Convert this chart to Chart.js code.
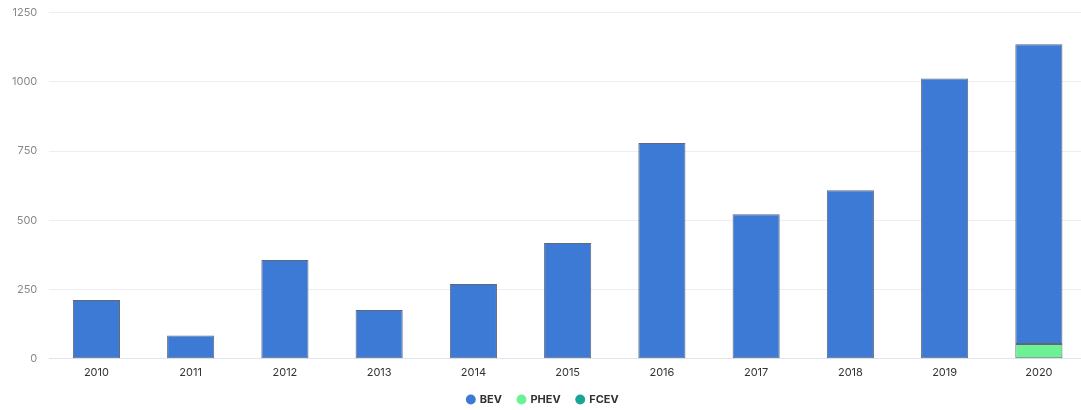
<!DOCTYPE html>
<html>
<head>
<meta charset="utf-8">
<script src="https://cdn.jsdelivr.net/npm/chart.js@4"></script>
<style>
  html, body { margin: 0; padding: 0; background: #fff; overflow: hidden; }
  #wrap { position: relative; width: 1086px; height: 416px; margin-top: -6px; }
</style>
</head>
<body>
<div id="wrap"><canvas id="c"></canvas></div>
<script>
// ── data ─────────────────────────────────────────────
const years = ["2010", "2011", "2012", "2013", "2014", "2015", "2016", "2017", "2018", "2019", "2020"];
const bev   = [212, 84, 357, 176, 270, 418, 779, 522, 609, 1012, 1083];
const phev  = [0, 0, 0, 0, 0, 0, 0, 0, 0, 0, 53];
const fcev  = [0, 0, 0, 0, 0, 0, 0, 0, 0, 0, 0];
const yTicks = [0, 250, 500, 750, 1000, 1250];

const legendOrder = ["BEV", "PHEV", "FCEV"];
const FONT = "Inter, 'Noto Sans', sans-serif";
const EDGE = "#5f6878";

new Chart(document.getElementById("c"), {
  type: "bar",
  data: {
    labels: years,
    // PHEV/FCEV first so they stack under BEV
    datasets: [
      { label: "PHEV", data: phev, backgroundColor: "#6cf294" },
      { label: "FCEV", data: fcev, backgroundColor: "#17a596" },
      { label: "BEV",  data: bev,  backgroundColor: "#3d7ad5" },
    ],
  },
  options: {
    responsive: true,
    maintainAspectRatio: false,
    animation: false,
    layout: { padding: { top: 0, right: 0, left: 0, bottom: -5 } },
    datasets: {
      bar: { barPercentage: 0.5, categoryPercentage: 1, borderColor: EDGE, borderWidth: 1, borderSkipped: false },
    },
    scales: {
      x: {
        stacked: true,
        grid: { display: false, drawTicks: true, tickLength: 8, tickColor: "#666" },
        border: { color: "#dfe4f0", width: 1 },
        ticks: { color: "#333", font: { family: FONT, size: 11 }, padding: -1 },
      },
      y: {
        stacked: true,
        min: 0,
        max: 1250,
        afterBuildTicks: (axis) => { axis.ticks = yTicks.map((v) => ({ value: v })); },
        grid: { color: "#eceef2", drawTicks: false },
        border: { display: false },
        ticks: {
          color: "#888",
          font: { family: FONT, size: 11 },
          padding: 12,
          callback: (v) => String(v),
        },
      },
    },
    plugins: {
      tooltip: { enabled: false },
      legend: {
        position: "bottom",
        labels: {
          color: "#333",
          font: { family: FONT, size: 11, weight: "bold" },
          usePointStyle: true,
          pointStyle: "circle",
          boxWidth: 7,
          boxHeight: 7,
          padding: 16,
          sort: (a, b) => legendOrder.indexOf(a.text) - legendOrder.indexOf(b.text),
          generateLabels: (chart) =>
            Chart.defaults.plugins.legend.labels.generateLabels(chart).map((l) => ({ ...l, lineWidth: 0 })),
        },
      },
    },
  },
});
</script>
</body>
</html>
